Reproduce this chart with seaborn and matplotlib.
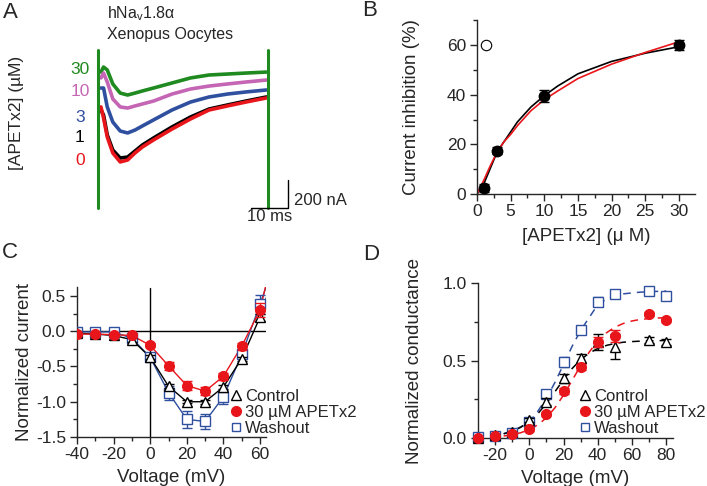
import seaborn as sns
import matplotlib.pyplot as plt
from matplotlib.lines import Line2D
from matplotlib.ticker import MultipleLocator

# ---------------- data ----------------
# A: Na+ current traces (time in ms, current in nA), one per [APETx2]
trace_t = [0.8, 1.5, 2.5, 4, 6, 8, 10, 12, 15, 20, 25, 30, 35, 40, 45.5]
trace_30 = [-29, 7, -14, -114, -179, -193, -179, -164, -143, -107, -71, -50, -43, -36, -29]
trace_10 = [-71, -36, -100, -221, -278, -286, -271, -257, -236, -186, -150, -129, -114, -100, -86]
trace_3 = [-143, -143, -278, -386, -450, -464, -443, -414, -371, -300, -243, -207, -186, -171, -157]
trace_1 = [-300, -336, -478, -586, -643, -636, -593, -550, -500, -421, -350, -293, -264, -236, -207]
trace_0 = [-278, -357, -493, -607, -671, -657, -607, -564, -514, -436, -364, -300, -271, -243, -214]
conc_labels = ["30", "10", "3", "1", "0"]
spike_t = [0, 0]
spike_i = [130, -1000]
spike2_t = [45.9, 45.9]

# B: dose response
conc = [1, 3, 10, 30]
inhib = [2.5, 17.5, 39.5, 60]
inhib_err = [1.5, 1.5, 2.5, 2.2]
fit_conc = [0, 1, 2, 3, 4, 5, 6, 8, 10, 12, 15, 20, 25, 30]
fit_black = [0, 4, 10.5, 17, 21, 25, 29, 35, 39.6, 43.5, 48.4, 53.4, 56.7, 59.3]
fit_red = [0, 5.5, 11.5, 17, 21, 24, 27.5, 33.5, 38, 41.5, 46.5, 52.3, 57, 61.3]

# C: I-V relation
v_c = [-40, -30, -20, -10, 0, 10, 20, 30, 40, 50, 60, 70]
i_ctrl = [-0.03, -0.04, -0.06, -0.12, -0.37, -0.78, -1.0, -1.0, -0.79, -0.39, 0.2, 0.98]
i_ctrl_err = [0.02, 0.02, 0.02, 0.03, 0.03, 0.03, 0.02, 0.03, 0.03, 0.03, 0.05, 0]
i_apetx = [-0.04, -0.04, -0.05, -0.06, -0.2, -0.49, -0.77, -0.85, -0.64, -0.21, 0.3, 1.4]
i_apetx_err = [0.02, 0.02, 0.02, 0.02, 0.03, 0.06, 0.07, 0.06, 0.05, 0.05, 0.1, 0]
i_wash = [-0.01, -0.01, -0.01, -0.10, -0.37, -0.87, -1.25, -1.28, -0.93, -0.33, 0.38, 1.13]
i_wash_err = [0.02, 0.03, 0.03, 0.03, 0.04, 0.1, 0.12, 0.1, 0.1, 0.05, 0.14, 0]

# D: conductance-voltage
v_d = [-30, -20, -10, 0, 10, 20, 30, 40, 50, 70, 80]
g_ctrl = [0.0, 0.02, 0.037, 0.116, 0.235, 0.385, 0.515, 0.62, 0.59, 0.63, 0.62]
g_ctrl_err = [0, 0, 0.01, 0.01, 0.02, 0.03, 0.03, 0.05, 0.08, 0.02, 0.02]
g_apetx = [0.0, 0.01, 0.026, 0.056, 0.155, 0.305, 0.46, 0.62, 0.66, 0.80, 0.76]
g_apetx_err = [0, 0, 0.01, 0.01, 0.01, 0.02, 0.02, 0.03, 0.04, 0.01, 0.01]
g_wash = [0.005, 0.015, 0.034, 0.105, 0.284, 0.49, 0.70, 0.88, 0.93, 0.95, 0.916]
g_wash_err = [0, 0, 0.01, 0.01, 0.02, 0.03, 0.02, 0.03, 0.02, 0.01, 0.01]
fit_v = [-15, -10, -5, 0, 5, 10, 15, 20, 25, 30, 35, 40, 45, 50, 55, 60, 65, 70, 75, 80]
fit_g_ctrl = [0.027, 0.043, 0.069, 0.106, 0.157, 0.223, 0.299, 0.377, 0.448, 0.505,
              0.548, 0.577, 0.597, 0.610, 0.618, 0.622, 0.625, 0.627, 0.628, 0.629]
fit_g_apetx = [0.013, 0.021, 0.034, 0.054, 0.085, 0.131, 0.195, 0.277, 0.371, 0.467,
               0.554, 0.626, 0.678, 0.715, 0.739, 0.755, 0.765, 0.770, 0.774, 0.776]
fit_g_wash = [0.028, 0.045, 0.072, 0.101, 0.173, 0.256, 0.359, 0.475, 0.591, 0.694,
              0.777, 0.86, 0.895, 0.918, 0.93, 0.936, 0.941, 0.944, 0.946, 0.948]

# ---------------- style ----------------
sns.set_style("ticks")
plt.rcParams["font.family"] = ["Liberation Sans", "DejaVu Sans"]
plt.rcParams["mathtext.fontset"] = "custom"
plt.rcParams["mathtext.rm"] = "Liberation Sans"
plt.rcParams["axes.unicode_minus"] = False
plt.rcParams["font.size"] = 12
plt.rcParams["axes.linewidth"] = 1
plt.rcParams["xtick.major.size"] = 5
plt.rcParams["ytick.major.size"] = 5
plt.rcParams["xtick.minor.size"] = 3
plt.rcParams["ytick.minor.size"] = 3
plt.rcParams["xtick.labelsize"] = 12.5
plt.rcParams["ytick.labelsize"] = 12.5

RED = "#e8161b"
BLUE = "#2f4f9f"
GREEN = "#1f8a1f"
PINK = "#c466b4"
FS = 12          # legend / panel A text
LFS = 13.5       # axis labels

W, H = 707, 486
fig = plt.figure(figsize=(W / 100, H / 100), dpi=100)


def px_axes(l, t, r, b):
    return fig.add_axes([l / W, 1 - b / H, (r - l) / W, (b - t) / H])


def style_axes(ax):
    sns.despine(ax=ax)
    ax.tick_params(which="both", direction="out", width=1)
    ax.tick_params(axis="x", pad=2)
    ax.tick_params(axis="y", pad=3)


# ---------------- A ----------------
axA = px_axes(60, 40, 330, 230)
axA.set_xlim(-10.27, 62.7)
axA.set_ylim(-1157, 200)
axA.axis("off")
traces = [trace_30, trace_10, trace_3, trace_1, trace_0]
trace_colors = [GREEN, PINK, BLUE, "black", RED]
for tr, c in zip(traces, trace_colors):
    sns.lineplot(x=trace_t, y=tr, ax=axA, color=c, lw=2.6, estimator=None, sort=False)
sns.lineplot(x=spike_t, y=spike_i, ax=axA, color=GREEN, lw=2.2, estimator=None, sort=False)
sns.lineplot(x=spike2_t, y=spike_i, ax=axA, color=GREEN, lw=2.2, estimator=None, sort=False)
# scale bar: 10 ms, 200 nA
axA.plot([41.35, 51.35, 51.35], [-1000, -1000, -800], color="black", lw=1)
axA.text(53, -943, "200 nA", va="center", ha="left", fontsize=FS)
axA.text(46.3, -1010, "10 ms", va="top", ha="center", fontsize=FS)

label_y = [70, 92, 117, 138, 160]
for lab, c, y in zip(conc_labels, trace_colors, label_y):
    fig.text(80 / W, 1 - y / H, lab, color=c, ha="center", va="center", fontsize=12.5)
fig.text(17 / W, 1 - 113 / H, "[APETx2] (µM)", rotation=90, ha="center", va="center", fontsize=12.5)
fig.text(107 / W, 1 - 14 / H, r"hNa$_\mathrm{v}$1.8α", ha="left", va="center", fontsize=11.5)
fig.text(107 / W, 1 - 35 / H, "Xenopus Oocytes", ha="left", va="center", fontsize=11.5)

# ---------------- B ----------------
axB = px_axes(477, 20.2, 695, 194)
sns.lineplot(x=fit_conc, y=fit_black, ax=axB, color="black", lw=1.2)
sns.lineplot(x=fit_conc, y=fit_red, ax=axB, color=RED, lw=1.2)
axB.errorbar(conc, inhib, yerr=inhib_err, fmt="o", color="black", ms=7.5,
             capsize=3.5, elinewidth=1, capthick=1, clip_on=False, zorder=5)
axB.plot([1.3], [60], "o", mfc="white", mec="black", mew=0.8, ms=7.5)
axB.set_xlim(0, 32.4)
axB.set_ylim(0, 70)
axB.xaxis.set_major_locator(MultipleLocator(5))
axB.xaxis.set_minor_locator(MultipleLocator(2.5))
axB.yaxis.set_major_locator(MultipleLocator(20))
axB.yaxis.set_minor_locator(MultipleLocator(10))
axB.set_xlabel("[APETx2] (μ M)", fontsize=LFS, labelpad=7)
axB.set_ylabel("Current inhibition (%)", fontsize=LFS, labelpad=19)
style_axes(axB)

# ---------------- C ----------------
axC = px_axes(77, 287.5, 265.5, 437)
axC.axhline(0, color="black", lw=1)
axC.axvline(0, color="black", lw=1)
sns.lineplot(x=v_c, y=i_wash, ax=axC, color=BLUE, lw=1)
sns.lineplot(x=v_c, y=i_ctrl, ax=axC, color="black", lw=1)
sns.lineplot(x=v_c, y=i_apetx, ax=axC, color=RED, lw=1)
axC.errorbar(v_c, i_wash, yerr=i_wash_err, fmt="s", mfc="white", mec=BLUE, color=BLUE,
             ms=6.5, mew=1, capsize=3.5, elinewidth=1, zorder=4)
axC.errorbar(v_c, i_ctrl, yerr=i_ctrl_err, fmt="^", mfc="white", mec="black", color="black",
             ms=7, mew=1, capsize=3.5, elinewidth=1, zorder=5)
axC.errorbar(v_c, i_apetx, yerr=i_apetx_err, fmt="o", color=RED, ms=7,
             capsize=3.5, elinewidth=1, zorder=6)
axC.set_xlim(-40, 63)
axC.set_ylim(-1.5, 0.62)
axC.xaxis.set_major_locator(MultipleLocator(20))
axC.xaxis.set_minor_locator(MultipleLocator(10))
axC.yaxis.set_major_locator(MultipleLocator(0.5))
axC.yaxis.set_minor_locator(MultipleLocator(0.25))
axC.yaxis.set_major_formatter(lambda v, p: f"{v:.1f}")
axC.set_xlabel("Voltage (mV)", fontsize=LFS, labelpad=5)
axC.set_ylabel("Normalized current", fontsize=LFS, labelpad=2)
style_axes(axC)

handles = [
    Line2D([], [], marker="^", ls="none", mfc="white", mec="black", ms=7, mew=1),
    Line2D([], [], marker="o", ls="none", color=RED, ms=7),
    Line2D([], [], marker="s", ls="none", mfc="white", mec=BLUE, ms=6, mew=1),
]
leg_labels = ["Control", "30 µM APETx2", "Washout"]
axC.legend(handles, leg_labels, loc="upper left", bbox_to_anchor=(231 / W, 1 - 389 / H),
           bbox_transform=fig.transFigure, frameon=False, fontsize=FS, handlelength=0.6,
           handletextpad=0.25, labelspacing=0.05, borderpad=0, borderaxespad=0)

# ---------------- D ----------------
axD = px_axes(478, 283, 673, 438)
sns.lineplot(x=fit_v, y=fit_g_wash, ax=axD, color=BLUE, lw=1.1)
sns.lineplot(x=fit_v, y=fit_g_ctrl, ax=axD, color="black", lw=1.1)
sns.lineplot(x=fit_v, y=fit_g_apetx, ax=axD, color=RED, lw=1.1)
for ln in axD.lines:
    ln.set_linestyle((0, (5, 4)))
axD.errorbar(v_d, g_wash, yerr=g_wash_err, fmt="s", mfc="white", mec=BLUE, color=BLUE,
             ms=6.5, mew=1, capsize=3.5, elinewidth=1, zorder=4, clip_on=False)
axD.errorbar(v_d, g_ctrl, yerr=g_ctrl_err, fmt="^", mfc="white", mec="black", color="black",
             ms=7, mew=1, capsize=3.5, elinewidth=1, zorder=5, clip_on=False)
axD.errorbar(v_d, g_apetx, yerr=g_apetx_err, fmt="o", color=RED, ms=7,
             capsize=3.5, elinewidth=1, zorder=6, clip_on=False)
axD.set_xlim(-30, 84)
axD.set_ylim(0, 1.0)
axD.xaxis.set_major_locator(MultipleLocator(20))
axD.xaxis.set_minor_locator(MultipleLocator(10))
axD.yaxis.set_major_locator(MultipleLocator(0.5))
axD.yaxis.set_minor_locator(MultipleLocator(0.25))
axD.yaxis.set_major_formatter(lambda v, p: f"{v:.1f}")
axD.set_xlabel("Voltage (mV)", fontsize=LFS, labelpad=5)
axD.set_ylabel("Normalized conductance", fontsize=LFS, labelpad=14)
style_axes(axD)
axD.legend(handles, leg_labels, loc="upper left", bbox_to_anchor=(580 / W, 1 - 389 / H),
           bbox_transform=fig.transFigure, frameon=False, fontsize=FS, handlelength=0.6,
           handletextpad=0.25, labelspacing=0.05, borderpad=0, borderaxespad=0)

# panel letters
for letter, x, y in [("A", 3, 12), ("B", 362, 11), ("C", 2, 253), ("D", 363, 254)]:
    fig.text(x / W, 1 - y / H, letter, fontsize=16, ha="left", va="center")

fig.savefig("out.png", dpi=100)
